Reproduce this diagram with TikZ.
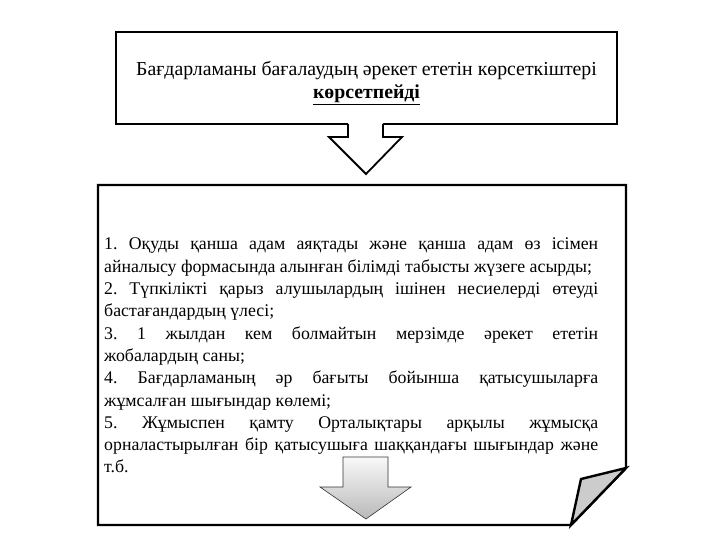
\documentclass[tikz,border=0pt]{standalone}
\usepackage{fontspec}
\setmainfont{Liberation Serif}
\usetikzlibrary{positioning}

\begin{document}
\begin{tikzpicture}[x=1pt, y=-1pt,
  frame/.style={draw, line width=2.4pt, minimum width=501pt, minimum height=92pt},
  sheet/.style={draw, line width=2.4pt, line join=miter, fill=white},
  curl/.style={draw, line width=2.4pt, fill=gray!40, line join=miter},
  hollow/.style={draw, line width=1.8pt, line join=miter},
  shaded/.style={draw=black!80, line width=0.6pt, top color=gray!5, bottom color=gray!55},
  headtxt/.style={font=\fontsize{19.8}{23}\selectfont},
  txt/.style={font=\fontsize{17.8}{22.3}\selectfont}
]
\useasboundingbox (0,0) rectangle (720,540);
% top box with the heading
\node[frame] (head) at (366.5,78) {};
\node[headtxt, align=center, inner sep=0pt] (title) at ([yshift=-5pt]head.center)
  {Бағдарламаны бағалаудың әрекет ететін көрсеткіштері\\ \textbf{\underline{көрсетпейді}}};
% hollow arrow over the bottom edge
\fill[white] (348,121.5) -- (348,137) -- (329,137) -- (366,174) -- (402,137) -- (383,137) -- (383,121.5) -- cycle;
\draw[hollow] (348,124) -- (348,137) -- (329,137) -- (366,174) -- (402,137) -- (383,137) -- (383,124);
% sheet with folded corner
\coordinate (s1) at (98,185);
\coordinate (s2) at (626,185);
\coordinate (s3) at (626,468);
\coordinate (s4) at (571,525);
\coordinate (s5) at (98,525);
\coordinate (s6) at (581,479);
\draw[sheet] (s1) -- (s2) -- (s3) -- (s4) -- (s5) -- cycle;
\draw[curl] (s3) -- (s6) -- (s4) -- cycle;
% list of indicators
\node[txt, text width=494pt, align=justify, anchor=north west, inner sep=0pt] (list) at (104,238)
  {\parindent=0pt \frenchspacing \hyphenpenalty=10000 \exhyphenpenalty=10000
   1. Оқуды қанша адам аяқтады және қанша адам өз ісімен\linebreak
   айналысу формасында алынған білімді табысты жүзеге асырды;\par
   2. Түпкілікті қарыз алушылардың ішінен несиелерді өтеуді\linebreak
   бастағандардың үлесі;\par
   3. 1 жылдан кем болмайтын мерзімде әрекет ететін\linebreak
   жобалардың саны;\par
   4. Бағдарламаның әр бағыты бойынша қатысушыларға\linebreak
   жұмсалған шығындар көлемі;\par
   5. Жұмыспен қамту Орталықтары арқылы жұмысқа\linebreak
   орналастырылған бір қатысушыға шаққандағы шығындар және\linebreak
   т.б.};
% shaded arrow at the bottom
\draw[shaded] (343,457) -- (388,457) -- (388,487) -- (411,487) -- (366,519) -- (320,487) -- (343,487) -- cycle;
\end{tikzpicture}
\end{document}
